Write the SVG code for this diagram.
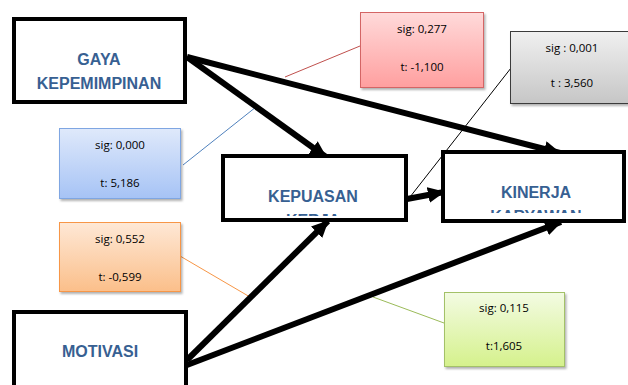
<svg xmlns="http://www.w3.org/2000/svg" width="628" height="385" viewBox="0 0 628 385">
<style>
.node{fill:#fff;stroke:#000;stroke-width:4}
.lbl{font-family:"Liberation Sans",Arial,sans-serif;font-weight:bold;font-size:16px;fill:#376092;text-anchor:middle}
.st{font-family:"Open Sans","Liberation Sans",sans-serif;font-size:11.5px;fill:#000;text-anchor:middle}
.thick{stroke:#000;stroke-width:6;fill:none;marker-end:url(#ah)}
.thin{fill:none;stroke-width:1}
</style>
<defs>
<marker id="ah" markerUnits="userSpaceOnUse" markerWidth="18" markerHeight="16" refX="16" refY="8" orient="auto">
<path d="M0,0 L17,8 L0,16 Z" fill="#000"/>
</marker>
<linearGradient id="gBlue" x1="0" y1="0" x2="0" y2="1"><stop offset="0" stop-color="#dfe9fb"/><stop offset="1" stop-color="#a6c3f5"/></linearGradient>
<linearGradient id="gRed" x1="0" y1="0" x2="0" y2="1"><stop offset="0" stop-color="#ffdada"/><stop offset="1" stop-color="#ff9f9f"/></linearGradient>
<linearGradient id="gGray" x1="0" y1="0" x2="0" y2="1"><stop offset="0" stop-color="#f0f0f0"/><stop offset="1" stop-color="#c6c6c6"/></linearGradient>
<linearGradient id="gOrange" x1="0" y1="0" x2="0" y2="1"><stop offset="0" stop-color="#fee8d6"/><stop offset="1" stop-color="#fbbf8a"/></linearGradient>
<linearGradient id="gGreen" x1="0" y1="0" x2="0" y2="1"><stop offset="0" stop-color="#f3fbe3"/><stop offset="1" stop-color="#d5f18c"/></linearGradient>
<filter id="sh" x="-10%" y="-10%" width="130%" height="130%"><feDropShadow dx="1.5" dy="2" stdDeviation="1.2" flood-color="#000" flood-opacity="0.3"/></filter>
<clipPath id="cKep"><rect x="225" y="158" width="180" height="58"/></clipPath>
<clipPath id="cKin"><rect x="445" y="153" width="178" height="60"/></clipPath>
</defs>

<g id="connectors">
<line class="thin" x1="183" y1="165" x2="256" y2="107" stroke="#4f81bd"/>
<line class="thin" x1="360" y1="46" x2="285" y2="77" stroke="#c0504d"/>
<line class="thin" x1="511" y1="68" x2="410" y2="197" stroke="#000"/>
<line class="thin" x1="180" y1="256" x2="250" y2="297" stroke="#f79646"/>
<line class="thin" x1="444" y1="323" x2="373" y2="297" stroke="#9bbb59"/>
<line class="thick" x1="187" y1="57" x2="326" y2="157"/>
<line class="thick" x1="187" y1="57" x2="560" y2="153"/>
<line class="thick" x1="187" y1="360" x2="328" y2="221"/>
<line class="thick" x1="187" y1="365" x2="561" y2="222"/>
<line class="thick" x1="407" y1="199" x2="444" y2="192"/>
</g>

<g id="gaya">
<rect class="node" x="14" y="19" width="171" height="83"/>
<text class="lbl" x="99" y="65">GAYA</text>
<text class="lbl" x="99" y="89">KEPEMIMPINAN</text>
</g>
<g id="kepuasan">
<rect class="node" x="223" y="156" width="183" height="64"/>
<g clip-path="url(#cKep)">
<text class="lbl" x="313" y="202">KEPUASAN</text>
<text class="lbl" x="313" y="226">KERJA</text>
</g>
</g>
<g id="kinerja">
<rect class="node" x="443" y="152" width="181" height="69"/>
<g clip-path="url(#cKin)">
<text class="lbl" x="536" y="198">KINERJA</text>
<text class="lbl" x="536" y="222">KARYAWAN</text>
</g>
</g>
<g id="motivasi">
<rect class="node" x="14" y="312" width="172" height="80"/>
<text class="lbl" x="100" y="357">MOTIVASI</text>
</g>

<g id="stat-blue">
<rect x="59.5" y="128.5" width="121" height="70" fill="url(#gBlue)" stroke="#7fa6e2" filter="url(#sh)"/>
<text class="st" x="120" y="149">sig: 0,000</text>
<text class="st" x="120" y="187">t: 5,186</text>
</g>
<g id="stat-red">
<rect x="360.5" y="12.5" width="123" height="75" fill="url(#gRed)" stroke="#d46565" filter="url(#sh)"/>
<text class="st" x="422" y="33">sig: 0,277</text>
<text class="st" x="422" y="71">t: -1,100</text>
</g>
<g id="stat-gray">
<rect x="510.5" y="31.5" width="122" height="72" fill="url(#gGray)" stroke="#3a3a3a" filter="url(#sh)"/>
<text class="st" x="572" y="52">sig : 0,001</text>
<text class="st" x="572" y="87">t : 3,560</text>
</g>
<g id="stat-orange">
<rect x="59.5" y="222.5" width="121" height="69" fill="url(#gOrange)" stroke="#f79646" filter="url(#sh)"/>
<text class="st" x="120" y="243">sig: 0,552</text>
<text class="st" x="120" y="281">t: -0,599</text>
</g>
<g id="stat-green">
<rect x="444.5" y="292.5" width="120" height="74" fill="url(#gGreen)" stroke="#a3c167" filter="url(#sh)"/>
<text class="st" x="504" y="312">sig: 0,115</text>
<text class="st" x="504" y="350">t:1,605</text>
</g>
</svg>
